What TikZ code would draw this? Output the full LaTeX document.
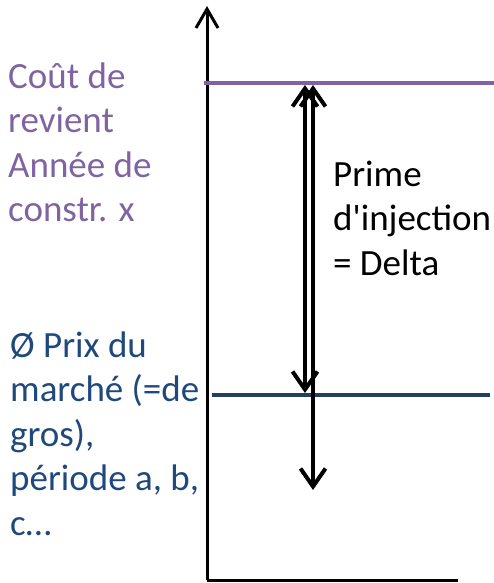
\documentclass[tikz,border=0pt]{standalone}
\usepackage{fontspec}
\setmainfont{Carlito}
\usetikzlibrary{arrows.meta}
\definecolor{cpurple}{HTML}{8064A2}
\definecolor{cblue}{HTML}{1F497D}
\definecolor{cline}{HTML}{243F60}
\tikzset{
  lbl/.style={inner sep=0pt, anchor=base west, align=left, font=\fontsize{37}{44.5}\selectfont},
  axis/.style={line width=3pt, -{Straight Barb[length=19pt,width=22pt,line width=3pt]}},
  level/.style={line width=4pt},
  delta/.style={line width=4pt, {Straight Barb[length=18pt,width=25pt,line width=4pt]}-{Straight Barb[length=18pt,width=25pt,line width=4pt]}}
}
\begin{document}
\begin{tikzpicture}[x=1pt,y=-1pt]
\useasboundingbox (0,0) rectangle (494,583);
\coordinate (o) at (207,580);
\coordinate (ytop) at (207,6);
\coordinate (xend) at (458,580);
\draw[line width=3pt] (xend) -- (o);
\draw[axis] (o) -- (ytop);
\coordinate (p1) at (204,83);
\coordinate (p2) at (494,83);
\coordinate (b1) at (212,395);
\coordinate (b2) at (490,395);
\draw[level, cpurple] (p1) -- (p2);
\draw[level, cline] (b1) -- (b2);
\coordinate (a1t) at (305,85);
\coordinate (a1b) at (305,393);
\coordinate (a2t) at (313,85);
\coordinate (a2b) at (313,490);
\draw[delta] (a1t) -- (a1b);
\draw[delta] (a2t) -- (a2b);
\node[lbl, text=cpurple] (cout) at (8,221.5) {Coût de\\revient\\Année de\\constr. x};
\node[lbl, text=cblue] (prix) at (10,535) {Ø Prix du\\marché (=de\\gros),\\période a, b,\\c…};
\node[lbl] (prime) at (333,275) {Prime\\d\textquotesingle injection\\= Delta};
\end{tikzpicture}
\end{document}
